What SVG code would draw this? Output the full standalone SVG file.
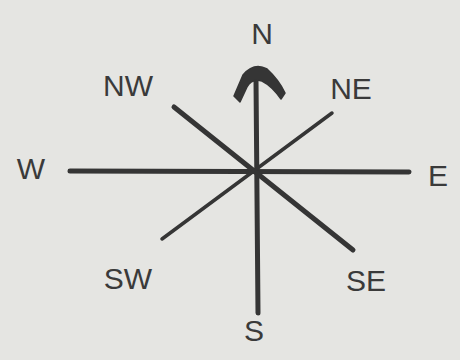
<svg xmlns="http://www.w3.org/2000/svg" width="460" height="360" viewBox="0 0 460 360">
<style>
.bg{fill:#e5e5e2}
.lbl{font-family:"Liberation Sans",Arial,sans-serif;font-size:30px;fill:#3a3a3a;text-anchor:middle;dominant-baseline:central}
.thick{stroke:#353535;stroke-width:5;stroke-linecap:round;fill:none}
.thin{stroke:#353535;stroke-width:3.5;stroke-linecap:round;fill:none}
</style>
<rect class="bg" x="0" y="0" width="460" height="360"/>
<g id="connectors">
<line class="thick" x1="70" y1="171" x2="409" y2="172"/>
<line class="thick" x1="256" y1="80" x2="258" y2="313"/>
<path d="M234,96 L243,75 Q254,62 267,69 Q279,80 285,93 L281,99 Q272,86 262,81 Q252,78 247,87 L240,102 Z" fill="#353535" stroke="#353535" stroke-width="1.5" stroke-linejoin="round"/>
<line class="thick" x1="174" y1="107" x2="353" y2="250"/>
<line class="thin" x1="332" y1="113" x2="162" y2="239"/>
</g>
<g id="N"><text class="lbl" x="262" y="33">N</text></g>
<g id="NW"><text class="lbl" x="128" y="85">NW</text></g>
<g id="NE"><text class="lbl" x="351" y="88">NE</text></g>
<g id="W"><text class="lbl" x="31" y="168">W</text></g>
<g id="E"><text class="lbl" x="438" y="175">E</text></g>
<g id="SW"><text class="lbl" x="128" y="278">SW</text></g>
<g id="SE"><text class="lbl" x="366" y="280">SE</text></g>
<g id="S"><text class="lbl" x="254" y="330">S</text></g>
</svg>
